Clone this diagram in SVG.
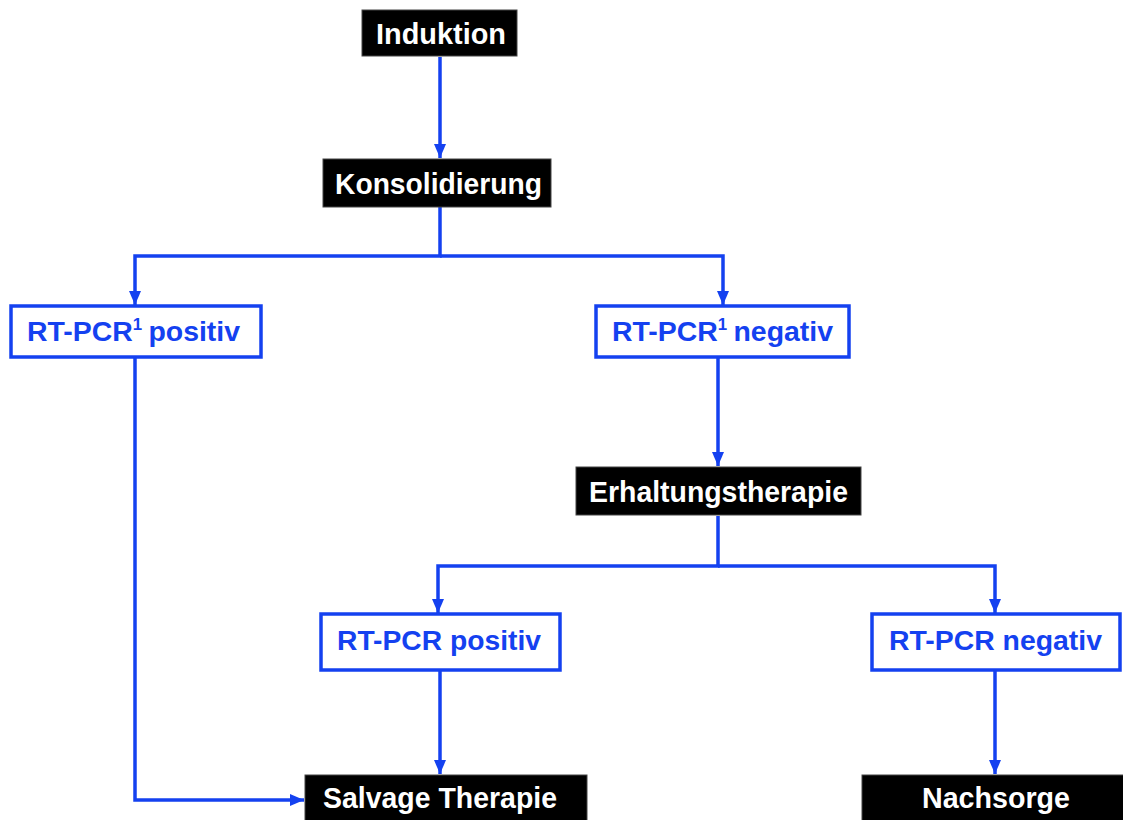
<svg xmlns="http://www.w3.org/2000/svg" width="1123" height="820" viewBox="0 0 1123 820">
<defs>
<style>
.dark rect{fill:#000;stroke:#444;stroke-width:1}
.dark text{fill:#fff;font-family:"Liberation Sans",Arial,sans-serif;font-weight:bold;font-size:29px;text-anchor:middle}
.lite rect{fill:#fff;stroke:#1441f0;stroke-width:3.5}
.lite text{fill:#1441f0;font-family:"Liberation Sans",Arial,sans-serif;font-weight:bold;font-size:27px;text-anchor:middle}
.sup{font-size:16px}
#connectors path{fill:none;stroke:#1441f0;stroke-width:3.5}
</style>
<marker id="ah" markerUnits="userSpaceOnUse" markerWidth="16" markerHeight="16" viewBox="0 0 16 16" refX="14" refY="8" orient="auto">
<path d="M0,2 L14,8 L0,14 Z" fill="#1441f0"/>
</marker>
</defs>
<rect width="1123" height="820" fill="#fff"/>
<g id="connectors">
<path d="M440,57 V158" marker-end="url(#ah)"/>
<path d="M440,207 V256 H135 V305" marker-end="url(#ah)"/>
<path d="M440,256 H723 V305" marker-end="url(#ah)"/>
<path d="M718,358 V466" marker-end="url(#ah)"/>
<path d="M718,516 V566 H438 V613" marker-end="url(#ah)"/>
<path d="M718,566 H995 V613" marker-end="url(#ah)"/>
<path d="M440,671 V774" marker-end="url(#ah)"/>
<path d="M995,671 V774" marker-end="url(#ah)"/>
<path d="M135,358 V800 H304" marker-end="url(#ah)"/>
</g>
<g id="induktion" class="dark"><rect x="362" y="10" width="155" height="46"/><text x="441" y="44" textLength="130" lengthAdjust="spacingAndGlyphs">Induktion</text></g>
<g id="konsolidierung" class="dark"><rect x="323" y="159" width="228" height="48"/><text x="438.5" y="194" textLength="207" lengthAdjust="spacingAndGlyphs">Konsolidierung</text></g>
<g id="rtpcr1-pos" class="lite"><rect x="11" y="306" width="250" height="51"/><text x="133.5" y="341" textLength="213" lengthAdjust="spacingAndGlyphs">RT-PCR<tspan class="sup" dy="-11">1</tspan><tspan dx="6" dy="11">positiv</tspan></text></g>
<g id="rtpcr1-neg" class="lite"><rect x="596" y="306" width="253" height="51"/><text x="722.5" y="341" textLength="221" lengthAdjust="spacingAndGlyphs">RT-PCR<tspan class="sup" dy="-11">1</tspan><tspan dx="6" dy="11">negativ</tspan></text></g>
<g id="erhaltung" class="dark"><rect x="576" y="467" width="285" height="48"/><text x="718.5" y="502" textLength="259" lengthAdjust="spacingAndGlyphs">Erhaltungstherapie</text></g>
<g id="rtpcr-pos" class="lite"><rect x="321" y="614" width="239" height="56"/><text x="439" y="650" textLength="204" lengthAdjust="spacingAndGlyphs">RT-PCR positiv</text></g>
<g id="rtpcr-neg" class="lite"><rect x="872" y="614" width="248" height="56"/><text x="995.5" y="650" textLength="213" lengthAdjust="spacingAndGlyphs">RT-PCR negativ</text></g>
<g id="salvage" class="dark"><rect x="305" y="775" width="282" height="50"/><text x="440" y="808" textLength="234" lengthAdjust="spacingAndGlyphs">Salvage Therapie</text></g>
<g id="nachsorge" class="dark"><rect x="862" y="775" width="265" height="50"/><text x="996" y="808" textLength="148" lengthAdjust="spacingAndGlyphs">Nachsorge</text></g>
</svg>
